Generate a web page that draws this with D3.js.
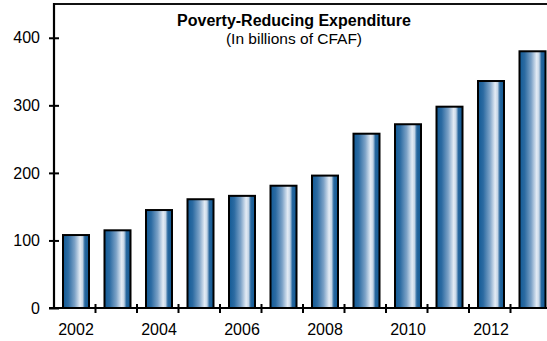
<!DOCTYPE html>
<html>
<head>
<meta charset="utf-8">
<script src="https://cdn.jsdelivr.net/npm/d3@7/dist/d3.min.js"></script>
<style>
  html, body { margin: 0; padding: 0; background: #fff; }
  svg { display: block; font-family: "Liberation Sans", Arial, sans-serif; }
</style>
</head>
<body>
<svg id="chart" width="547" height="341"></svg>
<script>
// Poverty-reducing expenditure, billions of CFAF
const years = [2002, 2003, 2004, 2005, 2006, 2007, 2008, 2009, 2010, 2011, 2012, 2013];
const spending = [108, 115, 145, 161, 166, 181, 196, 258, 272, 298, 336, 380];
const yTicks = [0, 100, 200, 300, 400];
const xTickLabels = [2002, 2004, 2006, 2008, 2010, 2012];
const title = "Poverty-Reducing Expenditure";
const subtitle = "(In billions of CFAF)";

const svg = d3.select("#chart");
const plotLeft = 54, plotTop = 4, plotBottom = 308, step = 41.5;
const fontSize = 16;

const x = d3.scaleBand()
  .domain(years)
  .range([plotLeft, plotLeft + step * years.length])
  .paddingInner(0)
  .paddingOuter(0);

const y = d3.scaleLinear().domain([0, 450]).range([plotBottom, plotTop]);

// Horizontal steel-blue gradient for the bars
const defs = svg.append("defs");
const grad = defs.append("linearGradient")
  .attr("id", "barGrad")
  .attr("x1", "0%").attr("x2", "100%").attr("y1", "0%").attr("y2", "0%");
[
  [0, "#125a95"],
  [0.2, "#2c6ba2"],
  [0.45, "#7ca2c7"],
  [0.66, "#e4ecf5"],
  [0.75, "#c4d5e6"],
  [0.84, "#28689f"],
  [1, "#105893"]
].forEach(([o, c]) => grad.append("stop").attr("offset", o).attr("stop-color", c));

// Bars
const barOffset = 9, barWidth = 26;
svg.append("g")
  .selectAll("rect")
  .data(years.map((yr, i) => ({ yr, v: spending[i] })))
  .join("rect")
  .attr("x", d => x(d.yr) + barOffset)
  .attr("y", d => y(d.v))
  .attr("width", barWidth)
  .attr("height", d => y(0) - y(d.v))
  .attr("fill", "url(#barGrad)")
  .attr("stroke", "#000")
  .attr("stroke-width", 2);

// Top frame line
svg.append("line")
  .attr("x1", plotLeft).attr("x2", 547)
  .attr("y1", plotTop).attr("y2", plotTop)
  .attr("stroke", "#111").attr("stroke-width", 2.2);

// Y axis
const yAxis = d3.axisLeft(y)
  .tickValues(yTicks)
  .tickSize(0)
  .tickPadding(14)
  .tickFormat(d3.format("d"));
const gy = svg.append("g").attr("transform", `translate(${plotLeft},0)`).call(yAxis);
gy.select(".domain").remove();
gy.selectAll("text").attr("font-size", fontSize).attr("fill", "#000")
  .attr("font-family", "Liberation Sans, Arial, sans-serif");
gy.selectAll(".tick").append("line")
  .attr("x1", -5).attr("x2", 5)
  .attr("stroke", "#000").attr("stroke-width", 2);
svg.append("line")
  .attr("x1", plotLeft).attr("x2", plotLeft)
  .attr("y1", plotTop - 1).attr("y2", plotBottom)
  .attr("stroke", "#000").attr("stroke-width", 2.2);

// X axis: baseline, boundary ticks, every-other-year labels
svg.append("line")
  .attr("x1", plotLeft - 5).attr("x2", 547)
  .attr("y1", plotBottom).attr("y2", plotBottom)
  .attr("stroke", "#000").attr("stroke-width", 2.2);
svg.append("g")
  .selectAll("line")
  .data(years)
  .join("line")
  .attr("x1", d => x(d) + x.step()).attr("x2", d => x(d) + x.step())
  .attr("y1", plotBottom - 4).attr("y2", plotBottom + 5)
  .attr("stroke", "#000").attr("stroke-width", 2);
svg.append("g")
  .selectAll("text")
  .data(xTickLabels)
  .join("text")
  .attr("x", d => x(d) + barOffset + barWidth / 2)
  .attr("y", 335)
  .attr("text-anchor", "middle")
  .attr("font-size", fontSize)
  .attr("fill", "#000")
  .text(d => d);

// Title
svg.append("text")
  .attr("x", 294).attr("y", 26)
  .attr("text-anchor", "middle")
  .attr("font-size", 16).attr("font-weight", "bold")
  .text(title);
svg.append("text")
  .attr("x", 294).attr("y", 44)
  .attr("text-anchor", "middle")
  .attr("font-size", 15.5)
  .text(subtitle);
</script>
</body>
</html>
